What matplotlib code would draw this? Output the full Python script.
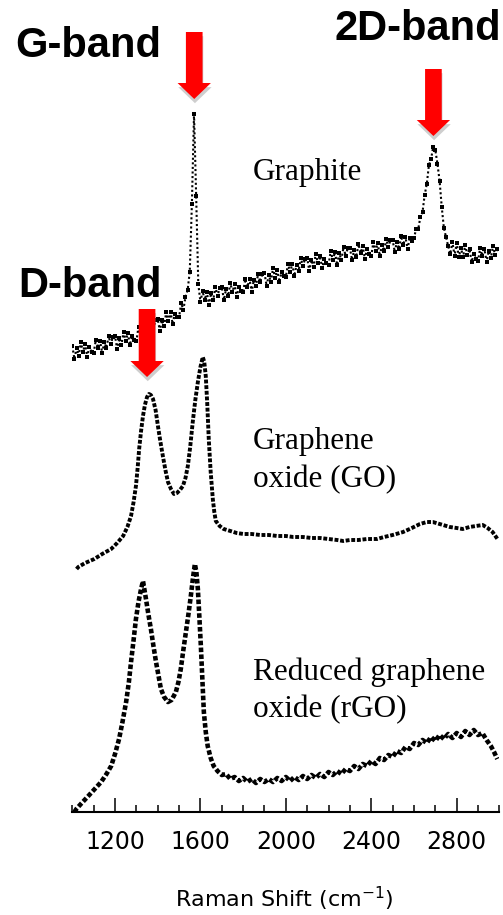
import matplotlib
matplotlib.use("Agg")
import numpy as np
import matplotlib.pyplot as plt
from matplotlib.patches import FancyArrowPatch, ArrowStyle
import matplotlib.patheffects as pe
from matplotlib.ticker import FixedLocator, MultipleLocator

# ---------------- data (Raman shift in cm^-1, intensity in a.u.) ----------------
graphite_x = list(range(1000, 3000, 10))
graphite_y = [
    26, 13, 24, 16, 30, 20, 28, 15, 25, 20,
    19, 32, 24, 31, 19, 30, 24, 36, 28, 35,
    36, 23, 34, 27, 40, 31, 39, 27, 36, 32,
    31, 45, 37, 45, 33, 45, 39, 52, 44, 52,
    53, 41, 52, 46, 60, 51, 60, 48, 58, 55,
    55, 69, 62, 75, 82, 100, 168, 258, 176, 88,
    70, 81, 72, 80, 67, 79, 72, 85, 76, 84,
    85, 72, 83, 76, 89, 80, 88, 75, 85, 81,
    80, 93, 85, 93, 80, 92, 86, 98, 90, 98,
    99, 86, 97, 90, 104, 94, 102, 90, 100, 96,
    95, 108, 100, 108, 96, 107, 101, 114, 106, 113,
    114, 101, 112, 105, 118, 109, 116, 104, 113, 109,
    107, 121, 112, 120, 107, 119, 112, 125, 116, 124,
    124, 112, 122, 115, 128, 119, 126, 113, 123, 118,
    116, 130, 121, 129, 116, 127, 121, 133, 125, 132,
    132, 120, 130, 123, 136, 127, 135, 123, 134, 131,
    134, 143, 143, 155, 160, 177, 188, 207, 213, 225,
    222, 208, 191, 165, 144, 135, 126, 118, 130, 116,
    129, 115, 124, 115, 127, 117, 123, 110, 118, 113,
    111, 124, 116, 123, 110, 121, 114, 126, 117, 123,
]

go_x = [1020, 1028, 1060, 1103, 1140, 1182, 1210, 1238, 1258, 1275,
        1287, 1298, 1306, 1313, 1322, 1331, 1340, 1350, 1359, 1368,
        1378, 1390, 1401, 1412, 1424, 1436, 1448, 1462, 1476, 1490,
        1504, 1518, 1530, 1541, 1552, 1564, 1576, 1588, 1600, 1611,
        1618, 1625, 1632, 1639, 1648, 1658, 1665, 1672, 1690, 1709,
        1740, 1770, 1802, 1840, 1880, 1920, 1960, 2000, 2035, 2080,
        2120, 2160, 2200, 2240, 2269, 2300, 2340, 2380, 2427, 2460,
        2500, 2549, 2590, 2628, 2660, 2688, 2720, 2768, 2800, 2828,
        2860, 2890, 2922, 2945, 2968, 2991]
go_y = [3, 5, 9, 13, 18, 23, 29, 36, 45, 56,
        70, 86, 104, 123, 141, 156, 167, 175, 178, 177,
        173, 162, 146, 131, 116, 102, 90, 83, 78, 79,
        82, 86, 94, 106, 125, 150, 172, 190, 205, 215,
        210, 196, 168, 133, 100, 73, 60, 51, 46, 43,
        41, 39, 38, 38, 37, 37, 36, 36, 35, 35,
        34, 34, 33, 32, 31, 32, 32, 33, 33, 35,
        37, 40, 44, 48, 50, 50, 48, 45, 44, 43,
        45, 46, 47, 44, 40, 33]

rgo_x = [1010, 1019, 1040, 1075, 1105, 1135, 1160, 1182, 1200, 1219,
         1235, 1252, 1265, 1275, 1287, 1298, 1310, 1322, 1331, 1345,
         1356, 1368, 1380, 1392, 1404, 1415, 1430, 1448, 1465, 1485,
         1497, 1508, 1520, 1532, 1544, 1555, 1565, 1574, 1581, 1588,
         1595, 1602, 1609, 1616, 1625, 1634, 1648, 1662] \
        + list(range(1680, 2961, 20)) + [2975, 2990]
rgo_y = [0, 3, 8, 16, 23, 30, 38, 46, 58, 73,
         90, 110, 130, 150, 172, 193, 210, 223, 231, 213,
         198, 183, 166, 150, 136, 123, 115, 110, 112, 120,
         130, 143, 162, 180, 198, 216, 234, 248, 240, 223,
         195, 166, 133, 100, 80, 66, 54, 46,
         41, 37, 38, 33, 35, 31, 34, 30, 33, 29,
         33, 30, 33, 30, 34, 31, 35, 31, 35, 32,
         36, 33, 37, 34, 38, 35, 40, 37, 41, 38,
         43, 41, 46, 43, 48, 46, 51, 48, 54, 52,
         57, 55, 61, 59, 65, 63, 69, 67, 72, 69,
         75, 71, 77, 73, 78, 74, 79, 75, 81, 77,
         82, 77, 79, 72, 66, 60, 53]

offsets = {"graphite": 440, "go": 240, "rgo": 0}

major_ticks = [1200, 1600, 2000, 2400, 2800]
band_names = ["G-band", "2D-band", "D-band"]
band_positions = [1571, 2691, 1350]

# ---------------- figure ----------------
W, H = 503, 915
fig = plt.figure(figsize=(W / 100, H / 100), dpi=100)
ax = fig.add_axes([72.3 / W, 103 / H, 427.1 / W, 812 / H])
ax.set_xlim(1000, 3000)
ax.set_ylim(0, 812)
for s in ("left", "right", "top"):
    ax.spines[s].set_visible(False)
ax.spines["bottom"].set_linewidth(1.5)
ax.set_yticks([])
ax.xaxis.set_major_locator(FixedLocator(major_ticks))
ax.xaxis.set_minor_locator(MultipleLocator(100))
ax.tick_params(axis="x", which="major", direction="in", length=10, width=1.1,
               labelsize=17, pad=13)
ax.tick_params(axis="x", which="minor", direction="in", length=5, width=1.1)
ax.patch.set_alpha(0)

gy = np.array(graphite_y) + offsets["graphite"]
ax.plot(graphite_x, gy, color="black", lw=1.5, ls=(0, (1, 1.2)),
        marker="s", ms=2.5, mew=0)
ax.plot(go_x, np.array(go_y) + offsets["go"], color="black", lw=2.8, ls=(0, (1, 0.45)))
ax.plot(rgo_x, np.array(rgo_y) + offsets["rgo"], color="black", lw=3.3, ls=(0, (1, 0.5)))

# arrows (tip heights in data units)
arrow_tops = [780, 743, 503]
arrow_tips = [713, 676, 435]
style = ArrowStyle.Simple(head_length=0.48, head_width=1.0, tail_width=0.5)
for xpos, top, tip in zip(band_positions, arrow_tops, arrow_tips):
    arr = FancyArrowPatch((xpos, top), (xpos, tip), arrowstyle=style,
                          mutation_scale=24, color="#ff0000", lw=0,
                          shrinkA=0, shrinkB=0, zorder=5)
    arr.set_path_effects([pe.SimplePatchShadow(offset=(0.5, -3), shadow_rgbFace="0.45",
                                               alpha=0.35), pe.Normal()])
    ax.add_patch(arr)

def ftext(x, y, s, **kw):
    fig.text(x / W, 1 - y / H, s, va="baseline", ha="left", **kw)

bold = dict(fontsize=30, fontweight="bold", family="Liberation Sans")
ftext(15, 57, band_names[0], **bold)
ftext(335, 40, band_names[1], **bold)
ftext(18, 297, band_names[2], **bold)

serif = dict(fontsize=22.5, family="Liberation Serif")
ftext(253, 180, "Graphite", **serif)
ftext(253, 449, "Graphene", **serif)
ftext(253, 487, "oxide (GO)", **serif)
ftext(253, 680, "Reduced graphene", **serif)
ftext(253, 717, "oxide (rGO)", **serif)

fig.text(284.5 / W, 1 - 907 / H, r"Raman Shift (cm$^{-1}$)", ha="center", va="baseline",
         fontsize=16)

fig.savefig("out.png", dpi=100)
